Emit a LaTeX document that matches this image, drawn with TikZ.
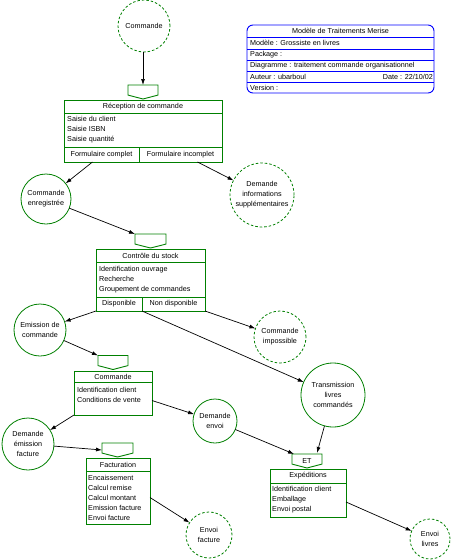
\documentclass[tikz,border=0pt]{standalone}
\usepackage{fontspec}
\setmainfont{Liberation Sans}
\usetikzlibrary{arrows.meta,calc}
\definecolor{mgreen}{RGB}{0,128,0}
\definecolor{mblue}{RGB}{0,0,255}
\tikzset{
  txt/.style={font=\fontsize{7.2}{9.9}\selectfont, inner sep=0pt},
  evt/.style={circle, draw=mgreen, line width=0.8pt, inner sep=0pt, outer sep=0pt, align=center, txt},
  extevt/.style={evt, dash pattern=on 2.5pt off 2pt},
  cell/.style={rectangle, draw=mgreen, line width=0.9pt, inner sep=0pt, outer sep=0pt, txt},
  acts/.style={txt, align=left, anchor=north west},
  trig/.style={rectangle, minimum width=30pt, minimum height=14pt, inner sep=0pt, outer sep=0pt, txt},
  arr/.style={draw=black, line width=0.7pt, -{Latex[length=6pt,width=4pt]}},
  cart/.style={txt, anchor=west}
}
\newcommand{\trigshape}[1]{\draw[mgreen, line width=0.9pt] (#1.north west) -- (#1.north east) -- ($(#1.south east)!0.28!(#1.north east)$) -- (#1.south) -- ($(#1.south west)!0.28!(#1.north west)$) -- cycle;}
\begin{document}
\begin{tikzpicture}[x=1pt,y=-1pt]
\useasboundingbox (0,0) rectangle (454,560);
\fill[white] (0,0) rectangle (454,560);

% ---- cartouche ----
\draw[mblue, line width=0.9pt, rounded corners=6pt] (247,25) rectangle (434,93);
\foreach \yy in {37,49,60,71,82} \draw[mblue, line width=0.9pt] (247,\yy) -- (434,\yy);
\node[txt] (ct) at (340.5,31) {Modèle de Traitements Merise};
\node[cart] (c1) at (250,43) {Modèle : Grossiste en livres};
\node[cart] (c2) at (250,54.5) {Package :};
\node[cart] (c3) at (250,65.5) {Diagramme : traitement commande organisationnel};
\node[cart] (c4) at (250,76.5) {Auteur : ubarboul};
\node[txt, anchor=east] (c5) at (433,76.5) {Date : 22/10/02};
\node[cart] (c6) at (250,87.5) {Version :};

% ---- events ----
\node[extevt, minimum size=52pt] (ev1) at (144,26) {Commande};
\node[evt, minimum size=50pt] (cmdEnr) at (46,199) {Commande\\enregistrée};
\node[extevt, minimum size=64pt] (demInfo) at (262,195) {Demande\\informations\\supplémentaires};
\node[evt, minimum size=52pt] (emis) at (40,330) {Emission de\\commande};
\node[extevt, minimum size=52pt] (cmdImp) at (280,337) {Commande\\impossible};
\node[evt, minimum size=64pt] (transm) at (333,395) {Transmission\\livres\\commandés};
\node[evt, minimum size=44pt] (demEnv) at (215,421) {Demande\\envoi};
\node[evt, minimum size=52pt] (demFact) at (28,444) {Demande\\émission\\facture};
\node[extevt, minimum size=46pt] (envFact) at (209,535) {Envoi\\facture};
\node[extevt, minimum size=40pt] (envLiv) at (430,539) {Envoi\\livres};

% ---- triggers ----
\node[trig] (t1) at (143,92) {};
\node[trig, minimum width=31pt] (t2) at (150.5,241) {};
\node[trig] (t3) at (113,362.5) {};
\node[trig, minimum width=31pt] (t4) at (117.5,450) {};
\node[trig] (t5) at (307,461) {ET};
\foreach \t in {t1,t2,t3,t4,t5} {\trigshape{\t}}

% ---- Reception de commande ----
\node[cell, minimum width=158pt, minimum height=13pt] (recT) at (143,106.5) {Réception de commande};
\node[cell, minimum width=158pt, minimum height=34pt] (recA) at (143,130) {};
\node[acts] at (67,116.5) {Saisie du client\\Saisie ISBN\\Saisie quantité};
\node[cell, minimum width=75pt, minimum height=15pt] (recOK) at (101.5,154.5) {Formulaire complet};
\node[cell, minimum width=83pt, minimum height=15pt] (recKO) at (180.5,154.5) {Formulaire incomplet};

% ---- Controle du stock ----
\node[cell, minimum width=109pt, minimum height=13pt] (ctrT) at (150.5,255.5) {Contrôle du stock};
\node[cell, minimum width=109pt, minimum height=35pt] (ctrA) at (150.5,279.5) {};
\node[acts] at (99,266) {Identification ouvrage\\Recherche\\Groupement de commandes};
\node[cell, minimum width=46pt, minimum height=14pt] (ctrOK) at (119,304) {Disponible};
\node[cell, minimum width=63pt, minimum height=14pt] (ctrKO) at (173.5,304) {Non disponible};

% ---- Commande ----
\node[cell, minimum width=78pt, minimum height=11pt] (cmdT) at (113,376.5) {Commande};
\node[cell, minimum width=78pt, minimum height=33pt] (cmdA) at (113,398.5) {};
\node[acts] at (77,387) {Identification client\\Conditions de vente};

% ---- Facturation ----
\node[cell, minimum width=64pt, minimum height=13pt] (facT) at (118,464.5) {Facturation};
\node[cell, minimum width=64pt, minimum height=53pt] (facA) at (118,497.5) {};
\node[acts] at (88,475.5) {Encaissement\\Calcul remise\\Calcul montant\\Emission facture\\Envoi facture};

% ---- Expeditions ----
\node[cell, minimum width=76pt, minimum height=14pt] (expT) at (308,476) {Expéditions};
\node[cell, minimum width=76pt, minimum height=34pt] (expA) at (308,500) {};
\node[acts] at (272,486.5) {Identification client\\Emballage\\Envoi postal};

% ---- connectors ----
\draw[arr] (ev1.south -| t1.north) -- (t1.north);
\draw[arr] ([xshift=-9pt]recOK.south) -- (cmdEnr);
\draw[arr] ([xshift=17pt]recKO.south) -- (demInfo);
\draw[arr] (cmdEnr) -- (t2.north west);
\draw[arr] (ctrOK.south west) -- (emis);
\draw[arr] (ctrKO.south east) -- (cmdImp);
\draw[arr] (ctrKO.south west) -- (transm);
\draw[arr] (emis) -- (t3.north west);
\draw[arr] ([yshift=-2pt]cmdA.east) -- (demEnv);
\draw[arr] (cmdA.south west) -- (demFact);
\draw[arr] (demFact) -- (t4.west);
\draw[arr] (demEnv) -- ([xshift=2pt]t5.north west);
\draw[arr] (transm) -- ([xshift=10pt,yshift=1pt]t5.north);
\draw[arr] (facA.east) -- (envFact);
\draw[arr] ([yshift=-2pt]expA.east) -- (envLiv);
\end{tikzpicture}
\end{document}
